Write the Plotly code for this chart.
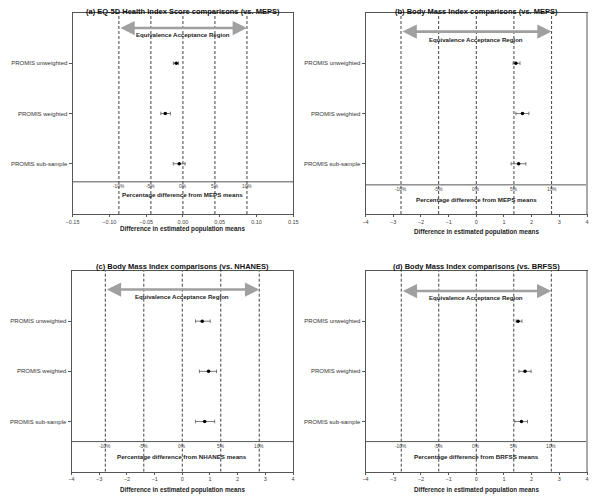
import plotly.graph_objects as go

# categories (top to bottom)
groups = ['PROMIS unweighted', 'PROMIS weighted', 'PROMIS sub-sample']
group_pos = [3, 2, 1]
pct_levels = [-10, -5, 0, 5, 10]

# panel titles / reference samples
titles = ['(a) EQ-5D Health Index Score comparisons (vs. MEPS)',
          '(b) Body Mass Index comparisons (vs. MEPS)',
          '(c) Body Mass Index comparisons (vs. NHANES)',
          '(d) Body Mass Index comparisons (vs. BRFSS)']
ref_names = ['MEPS', 'MEPS', 'NHANES', 'BRFSS']
ref_means = [0.87, 27.2, 27.8, 27.1]

# estimated differences and 95% intervals
est_a = [-0.009, -0.024, -0.005]
lo_a = [-0.013, -0.030, -0.013]
hi_a = [-0.006, -0.017, 0.003]

est_b = [1.43, 1.67, 1.53]
lo_b = [1.33, 1.43, 1.26]
hi_b = [1.58, 1.90, 1.79]

est_c = [0.72, 0.95, 0.81]
lo_c = [0.48, 0.62, 0.48]
hi_c = [1.01, 1.24, 1.17]

est_d = [1.51, 1.76, 1.63]
lo_d = [1.44, 1.54, 1.39]
hi_d = [1.65, 1.98, 1.85]

estimates = [est_a, est_b, est_c, est_d]
lows = [lo_a, lo_b, lo_c, lo_d]
highs = [hi_a, hi_b, hi_c, hi_d]

x_ranges = [[-0.15, 0.15], [-4, 4], [-4, 4], [-4, 4]]
x_dticks = [0.05, 1, 1, 1]
x_formats = ['.2f', 'd', 'd', 'd']

W, H = 600, 499
OFF = 8  # page body margin
# pixel boxes on the page (left, right, top, bottom)
boxes = [(66.7, 292, 13, 214), (365.7, 591.7, 13, 214),
         (65.7, 291.7, 271, 471.7), (365.7, 591.7, 271, 471.7)]
# per panel placement of the inner pieces (in y data units)
sep_y = [0.64, 0.58, 0.6, 0.6]
pct_y = [0.54, 0.49, 0.51, 0.51]
pct_title_y = [0.38, 0.28, 0.30, 0.30]
arrow_y = [3.7, 3.63, 3.63, 3.6]
arrow_txt_y = [3.58, 3.48, 3.49, 3.47]
xtitle_shift = [-15.5, -18, -18.5, -18.5]
title_shift = [2, 2, 5, 4.5]

FONT = 'Liberation Sans, Arial, sans-serif'
LINE = '#555'

fig = go.Figure()
layout = dict(width=W, height=H, margin=dict(l=0, r=0, t=0, b=0),
              plot_bgcolor='white', paper_bgcolor='white', showlegend=False,
              font=dict(family=FONT, color='#222'))
shapes = []
annotations = []

for i in range(4):
    n = '' if i == 0 else str(i + 1)
    xr, yr = 'x' + n, 'y' + n
    l, r, t, b = [v - OFF for v in boxes[i]]
    layout['xaxis' + n] = dict(
        domain=[l / W, r / W], range=x_ranges[i], anchor=yr,
        dtick=x_dticks[i], tick0=0, tickformat=x_formats[i],
        showline=True, linecolor=LINE, linewidth=1, mirror=True,
        ticks='outside', ticklen=2, tickcolor=LINE, showgrid=False, zeroline=False,
        tickfont=dict(size=5.5, color='#444'),
    )
    layout['yaxis' + n] = dict(
        domain=[1 - b / H, 1 - t / H], range=[0, 4], anchor=xr,
        tickvals=group_pos, ticktext=groups,
        showline=True, linecolor=LINE, linewidth=1, mirror=True,
        ticks='outside', ticklen=3, tickcolor=LINE, showgrid=False, zeroline=False,
        tickfont=dict(size=6, color='#333'),
    )

    est = estimates[i]
    plus = [h - e for h, e in zip(highs[i], est)]
    minus = [e - lo for e, lo in zip(est, lows[i])]
    fig.add_trace(go.Scatter(
        x=est, y=group_pos, xaxis=xr, yaxis=yr, mode='markers',
        marker=dict(color='black', size=3.5),
        error_x=dict(type='data', array=plus, arrayminus=minus,
                     color='#444', thickness=0.7, width=1.8),
    ))

    mean = ref_means[i]
    for p in pct_levels:
        xv = mean * p / 100
        shapes.append(dict(type='line', xref=xr, yref=yr, x0=xv, x1=xv, y0=0, y1=4,
                           line=dict(color='#444', width=1, dash='3px,2px')))
        annotations.append(dict(xref=xr, yref=yr, x=xv, y=pct_y[i], text=f'{p}%',
                                showarrow=False, font=dict(size=4.8, color='#444')))

    shapes.append(dict(type='line', xref=xr + ' domain', yref=yr, x0=0, x1=1,
                       y0=sep_y[i], y1=sep_y[i], line=dict(color=LINE, width=1)))
    if i in (1, 3):
        shapes.append(dict(type='line', xref=xr + ' domain', yref=yr + ' domain',
                           x0=1, x1=1, y0=0, y1=1, line=dict(color='#aaa', width=2)))

    annotations.append(dict(xref=xr, yref=yr, x=0, y=pct_title_y[i],
                            text=f'<b>Percentage difference from {ref_names[i]} means</b>',
                            showarrow=False, font=dict(size=6.2, color='#222')))

    # equivalence region arrow
    annotations.append(dict(xref=xr, yref=yr, axref=xr, ayref=yr,
                            x=mean * 0.1, y=arrow_y[i], ax=-mean * 0.1, ay=arrow_y[i],
                            text='', showarrow=True, arrowside='end+start',
                            arrowhead=2, arrowsize=1.1, arrowwidth=2.6, arrowcolor='#a0a0a0'))
    annotations.append(dict(xref=xr, yref=yr, x=0, y=arrow_txt_y[i],
                            text='<b>Equivalence Acceptance Region</b>',
                            showarrow=False, font=dict(size=6.1, color='#222')))

    annotations.append(dict(xref=xr + ' domain', yref=yr + ' domain', x=0.5, y=1,
                            yanchor='middle', yshift=title_shift[i], text=f'<b>{titles[i]}</b>',
                            showarrow=False, font=dict(size=7.5, color='#111')))
    annotations.append(dict(xref=xr + ' domain', yref=yr + ' domain', x=0.5, y=0,
                            yanchor='middle', yshift=xtitle_shift[i],
                            text='<b>Difference in estimated population means</b>',
                            showarrow=False, font=dict(size=6.3, color='#222')))

layout['shapes'] = shapes
layout['annotations'] = annotations
fig.update_layout(**layout)

fig.write_html('out.html')
